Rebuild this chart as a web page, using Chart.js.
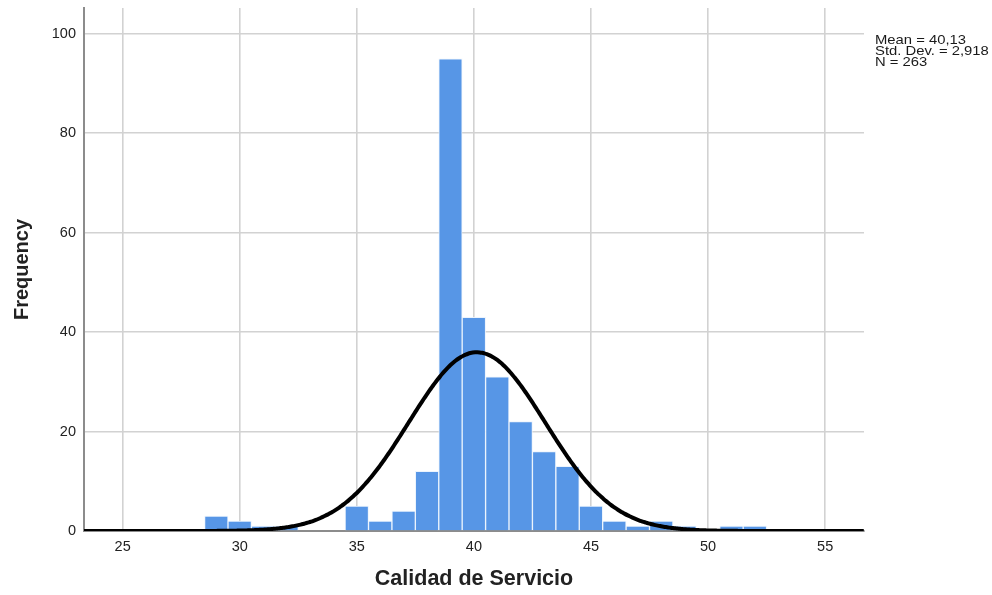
<!DOCTYPE html>
<html>
<head>
<meta charset="utf-8">
<script src="https://cdn.jsdelivr.net/npm/chart.js@4/dist/chart.umd.min.js"></script>
<style>
  html, body { margin: 0; padding: 0; background: #fff; }
  #wrap { width: 992px; height: 595px; }
</style>
</head>
<body>
<div id="wrap"><canvas id="hist" width="992" height="595"></canvas></div>
<script>
// Histogram of "Calidad de Servicio" scores (bin width 1)
const binCenters = [29, 30, 31, 32, 33, 34, 35, 36, 37, 38, 39, 40, 41, 42, 43, 44, 45, 46, 47, 48, 49, 50, 51, 52];
const frequencies = [3, 2, 1, 1, 0, 0, 5, 2, 4, 12, 95, 43, 31, 22, 16, 13, 5, 2, 1, 2, 1, 0, 1, 1];

// Summary statistics shown beside the plot
const statMean = 40.13;
const statStdDev = 2.918;
const statN = 263;
const statLines = ['Mean = 40,13', 'Std. Dev. = 2,918', 'N = 263'];

// Axis ranges and tick labels
const xRange = [23.35, 56.66];
const xTickValues = [25, 30, 35, 40, 45, 50, 55];
const yRange = [0, 105.2];
const yTickValues = [0, 20, 40, 60, 80, 100];

const binWidth = 1;

// Fitted normal curve scaled to counts: N * binWidth * pdf(x)
const normalPoints = [];
for (let x = xRange[0]; x <= xRange[1] + 1e-9; x += 0.1) {
  const z = (x - statMean) / statStdDev;
  const y = statN * binWidth * Math.exp(-0.5 * z * z) / (statStdDev * Math.sqrt(2 * Math.PI));
  normalPoints.push({ x: x, y: y });
}

const barPoints = binCenters.map((c, i) => ({ x: c, y: frequencies[i] }));

const fontFamily = '"Liberation Sans", Arial, sans-serif';

// Statistics block to the right of the plot area
const statsBox = {
  id: 'statsBox',
  afterDraw(chart) {
    const ctx = chart.ctx;
    ctx.save();
    ctx.fillStyle = '#1a1a1a';
    ctx.font = '13px ' + fontFamily;
    ctx.textAlign = 'left';
    ctx.textBaseline = 'alphabetic';
    ctx.translate(875, 0);
    ctx.scale(1.14, 1);
    statLines.forEach((t, i) => ctx.fillText(t, 0, 44 + i * 11));
    ctx.restore();
  }
};

new Chart(document.getElementById('hist'), {
  type: 'bar',
  data: {
    datasets: [
      {
        type: 'line',
        data: normalPoints,
        borderColor: '#000000',
        borderWidth: 4,
        pointRadius: 0,
        tension: 0.3,
        fill: false,
        order: 0
      },
      {
        type: 'bar',
        data: barPoints,
        backgroundColor: '#5796e6',
        borderColor: 'rgba(235,243,253,0.95)',
        borderWidth: 1,
        barPercentage: 1.0,
        categoryPercentage: 1.0,
        order: 1
      }
    ]
  },
  options: {
    responsive: false,
    animation: false,
    devicePixelRatio: 1,
    layout: { padding: { top: 8, right: 128, left: 0, bottom: 0 } },
    plugins: {
      legend: { display: false },
      tooltip: { enabled: false }
    },
    scales: {
      x: {
        type: 'linear',
        min: xRange[0],
        max: xRange[1],
        offset: false,
        afterFit(scale) { scale.height = 64; scale.paddingLeft = 0; scale.paddingRight = 0; },
        afterBuildTicks(scale) { scale.ticks = xTickValues.map(v => ({ value: v })); },
        grid: { offset: false, color: '#d2d2d2', lineWidth: 1.6, drawTicks: false },
        border: { display: true, color: '#8c8c8c', width: 2 },
        ticks: {
          includeBounds: false,
          padding: 7,
          color: '#222',
          font: { family: fontFamily, size: 14.5 }
        },
        title: {
          display: true,
          text: 'Calidad de Servicio',
          color: '#222',
          padding: { top: 0, bottom: 3 },
          font: { family: fontFamily, size: 21.5, weight: 'bold' }
        }
      },
      y: {
        min: yRange[0],
        max: yRange[1],
        afterFit(scale) { scale.width = 84; scale.paddingTop = 0; scale.paddingBottom = 0; },
        afterBuildTicks(scale) { scale.ticks = yTickValues.map(v => ({ value: v })); },
        grid: { color: '#d2d2d2', lineWidth: 1.6, drawTicks: false },
        border: { display: true, color: '#8c8c8c', width: 2 },
        ticks: {
          includeBounds: false,
          padding: 8,
          color: '#222',
          font: { family: fontFamily, size: 14.5 }
        },
        title: {
          display: true,
          text: 'Frequency',
          color: '#222',
          padding: { top: 10, bottom: 0 },
          font: { family: fontFamily, size: 20, weight: 'bold' }
        }
      }
    }
  },
  plugins: [statsBox]
});
</script>
</body>
</html>
